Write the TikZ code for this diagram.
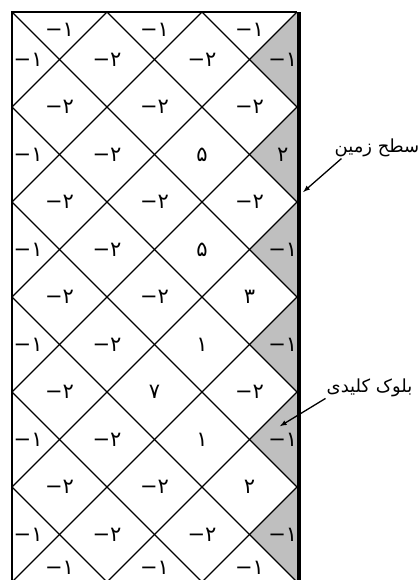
\documentclass[tikz,border=0pt]{standalone}
\usepackage{fontspec}
\usetikzlibrary{arrows}
\TeXXeTstate=1
\newfontfamily\arabicfont[Script=Arabic]{DejaVu Sans}
\newcommand{\negnum}[1]{\hbox{−}\hbox{#1}}
\tikzstyle{val} = [font=\arabicfont\fontsize{21}{21}\selectfont,inner sep=0pt]
\tikzstyle{note} = [font=\arabicfont\fontsize{18}{18}\selectfont,inner sep=1pt]
\tikzstyle{grid} = [line width=1.3pt]
\tikzstyle{key} = [fill=gray!50]

\begin{document}
\begin{tikzpicture}[x=47.5pt,y=-47.5pt]
        \useasboundingbox (-0.2526,-0.2526) rectangle (8.568,11.958);

        % key blocks along the surface
        \foreach \r in {1,3,...,11}
                \fill[key] (6,\r-1) -- (5,\r) -- (6,\r+1) -- cycle;

        \begin{scope}
                \clip (0,0) rectangle (6,12);
                \foreach \k in {-12,-10,...,6}
                        \draw[grid] (\k,0) -- (\k+12,12);
                \foreach \k in {0,2,...,18}
                        \draw[grid] (\k,0) -- (\k-12,12);
        \end{scope}
        \draw[grid] (0,12) -- (0,0) -- (6,0);
        \draw[line width=4pt] ([xshift=2pt]6,0) -- ([xshift=2pt]6,12);

        % half blocks
        \foreach \c in {1,3,5} {
                \node[val] (t\c) at (\c,0.38) {\negnum{۱}};
                \node[val] (b\c) at (\c,11.7) {\negnum{۱}};
        }
        \foreach \r in {1,3,...,11}
                \node[val] (l\r) at (0.34,\r) {\negnum{۱}};
        \foreach \r/\v in {1/\negnum{۱},3/۲,5/\negnum{۱},7/\negnum{۱},9/\negnum{۱},11/\negnum{۱}}
                \node[val] (g\r) at (5.7,\r) {\v};

        % full blocks
        \foreach \c/\r/\v in {2/1/\negnum{۲},4/1/\negnum{۲},1/2/\negnum{۲},3/2/\negnum{۲},5/2/\negnum{۲},
                2/3/\negnum{۲},4/3/۵,1/4/\negnum{۲},3/4/\negnum{۲},5/4/\negnum{۲},
                2/5/\negnum{۲},4/5/۵,1/6/\negnum{۲},3/6/\negnum{۲},5/6/۳,
                2/7/\negnum{۲},4/7/۱,1/8/\negnum{۲},3/8/۷,5/8/\negnum{۲},
                2/9/\negnum{۲},4/9/۱,1/10/\negnum{۲},3/10/\negnum{۲},5/10/۲,
                2/11/\negnum{۲},4/11/\negnum{۲}}
                \node[val] (d\c-\r) at (\c,\r) {\v};

        % labels
        \node[note,anchor=east] (ground) at (8.6,2.87) {\beginR سطح زمین\endR};
        \coordinate (gs) at (6.13,3.79);
        \draw[-latex,line width=1.3pt] ([xshift=8pt]ground.south west) -- (gs);

        \node[note,anchor=west] (keyblock) at (6.6,7.92) {\beginR بلوک کلیدی\endR};
        \coordinate (kb) at (5.64,8.72);
        \draw[-latex,line width=1.3pt] (keyblock.south west) -- (kb);
\end{tikzpicture}
\end{document}
